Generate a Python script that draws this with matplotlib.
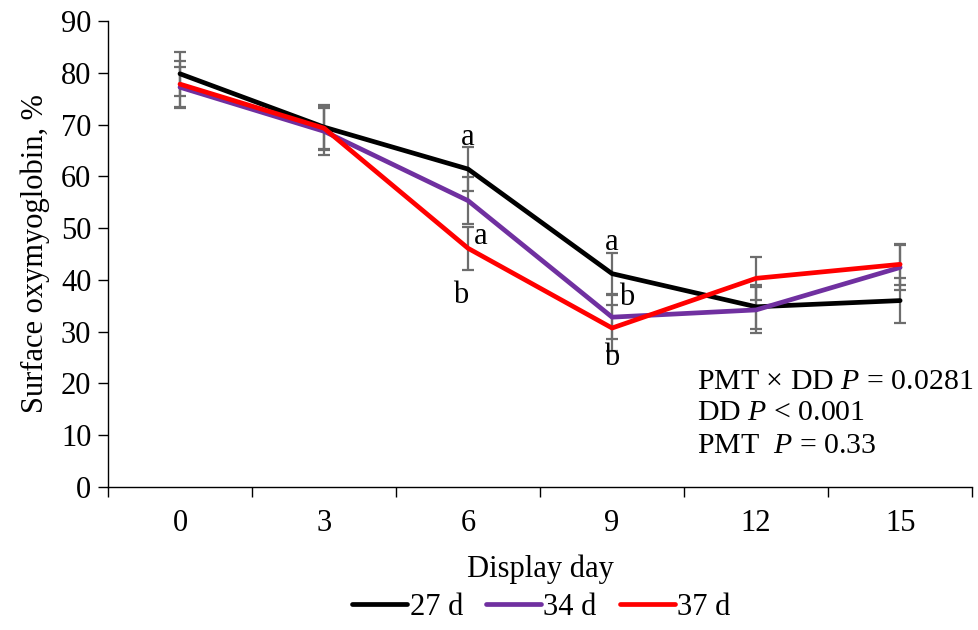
import matplotlib.pyplot as plt

plt.rcParams['font.family'] = ['Liberation Serif', 'DejaVu Serif']
plt.rcParams['mathtext.fontset'] = 'custom'
plt.rcParams['mathtext.rm'] = 'Liberation Serif'
plt.rcParams['mathtext.it'] = 'Liberation Serif:italic'

days = ['0', '3', '6', '9', '12', '15']

d27 = [79.8, 69.5, 61.4, 41.2, 34.8, 36.0]
d34 = [77.2, 68.7, 55.3, 32.8, 34.2, 42.4]
d37 = [77.8, 69.3, 46.1, 30.7, 40.3, 43.0]

err27 = [4.2, 4.3, 4.2, 4.0, 4.2, 4.4]
err34 = [4.0, 4.5, 4.6, 4.2, 4.4, 4.4]
err37 = [4.4, 4.3, 4.2, 4.4, 4.2, 4.0]

series = [
    ('27 d', d27, err27, 'black'),
    ('34 d', d34, err34, '#7030A0'),
    ('37 d', d37, err37, '#FF0000'),
]

# significance letters: (day index, y value, text, x offset in category units)
letters = [
    (2, 67.5, 'a', 0.0),
    (2, 48.3, 'a', 0.09),
    (2, 37.0, 'b', -0.05),
    (3, 47.3, 'a', 0.0),
    (3, 36.5, 'b', 0.1),
    (3, 25.0, 'b', 0.0),
]

FS = 22

fig = plt.figure(figsize=(9.79, 6.30), dpi=100)
ax = fig.add_axes([0.1103, 0.227, 0.8827, 0.7397])

x = list(range(len(days)))
for name, vals, err, col in series:
    ax.errorbar(x, vals, yerr=err, fmt='none', ecolor='#6d6d6d',
                elinewidth=1.6, capsize=4, capthick=1.6, zorder=2)
for name, vals, err, col in series:
    ax.plot(x, vals, color=col, lw=3.4, label=name, zorder=3,
            solid_capstyle='round')

for i, yv, t, dx in letters:
    ax.text(i + dx, yv, t, ha='center', va='center', fontsize=FS, zorder=4)

ax.text(3.59, 20.3, 'PMT × DD $P$ = 0.0281', fontsize=FS - 0.5, va='center')
ax.text(3.59, 14.3, 'DD $P$ < 0.001', fontsize=FS - 0.5, va='center')
ax.text(3.59, 7.9, 'PMT  $P$ = 0.33', fontsize=FS - 0.5, va='center')

ax.set_xlim(-0.5, 5.5)
ax.set_ylim(0, 90)
ax.set_yticks(range(0, 91, 10))
ax.set_xticks(x)
ax.set_xticklabels(days)
ax.set_xticks([i - 0.5 for i in range(len(days) + 1)], minor=True)
ax.tick_params(axis='x', which='major', length=0, pad=16, labelsize=FS)
ax.tick_params(axis='x', which='minor', length=7, width=1, direction='out')
ax.tick_params(axis='y', length=7, width=1, direction='out', labelsize=FS, pad=5)

for s in ['top', 'right']:
    ax.spines[s].set_visible(False)
for s in ['left', 'bottom']:
    ax.spines[s].set_linewidth(1)

ax.set_ylabel('Surface oxymyoglobin, %', fontsize=FS, labelpad=8)
ax.set_xlabel('Display day', fontsize=FS, labelpad=12)

fig.legend(loc='center', bbox_to_anchor=(0.553, 0.036), ncol=3, frameon=False,
           fontsize=FS, handlelength=1.8, handletextpad=0.08, columnspacing=0.75)

fig.savefig('out.png', dpi=100)
